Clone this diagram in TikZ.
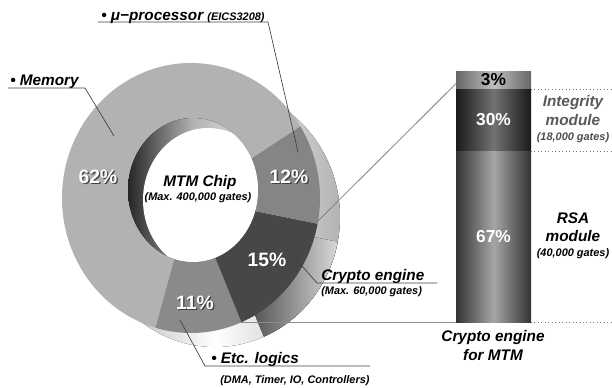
\documentclass[tikz,border=0pt]{standalone}
\usepackage{fontspec}
\setmainfont{Liberation Sans}
\usetikzlibrary{positioning, calc}

\definecolor{memgray}{gray}{0.70}
\definecolor{procgray}{gray}{0.52}
\definecolor{cryptogray}{gray}{0.28}
\definecolor{etcgray}{gray}{0.54}

\tikzset{
  pct/.style={font=\bfseries\fontsize{14.5}{16}\selectfont, text=white, inner sep=0},
  pctshadow/.style={font=\bfseries\fontsize{14.5}{16}\selectfont, text=black!75, inner sep=0},
  lbl/.style={font=\bfseries\itshape\fontsize{11.5}{14}\selectfont, inner sep=0},
  sublbl/.style={font=\bfseries\itshape\fontsize{8.2}{10}\selectfont, inner sep=0},
  lead/.style={draw=black!75, line width=0.5pt},
  barseg/.style={minimum width=56.25pt, inner sep=0, outer sep=0, font=\bfseries\fontsize{13}{15}\selectfont},
  guide/.style={draw=black!55, dotted, line width=0.6pt}
}

% one slice of the top face: center, start, end, fill
\newcommand{\donutslice}[4]{%
  \fill[#4] (#1) -- ++(#2:129 and 135) arc[start angle=#2, end angle=#3, x radius=129, y radius=135] -- cycle;}
% white percent with a dark shadow
\newcommand{\pctlabel}[3]{%
  \node[pctshadow] (#1s) at ($(#2)+(1.3,1.3)$) {#3};
  \node[pct] (#1) at (#2) {#3};}

\begin{document}
\begin{tikzpicture}[x=0.75pt, y=-0.75pt]
  \useasboundingbox (0,0) rectangle (612,387);

  \coordinate (dc) at (191,198);
  \coordinate (rc) at (215,217);

  % side of the ring
  \fill[left color=black!35, right color=black!30, middle color=white] (rc) ellipse[x radius=125, y radius=130];
  \fill[left color=black!90, right color=black!15] (rc) -- ++(67:125 and 130) arc[start angle=67, end angle=11, x radius=125, y radius=130] -- cycle;

  % top face
  \donutslice{dc}{-32}{-254}{memgray}
  \donutslice{dc}{106}{67}{etcgray}
  \donutslice{dc}{67}{11}{cryptogray}
  \donutslice{dc}{11}{-32}{procgray}

  % hole with its inner wall
  \fill[left color=black!85, right color=black!10, middle color=black!30] (193,190) ellipse[x radius=65, y radius=72];
  \begin{scope}
    \clip (193,190) ellipse[x radius=65, y radius=72];
    \fill[white] (208,200) ellipse[x radius=65, y radius=72];
  \end{scope}

  \pctlabel{p62}{98,177}{62\%}
  \pctlabel{p12}{289,177}{12\%}
  \pctlabel{p15}{267,260}{15\%}
  \pctlabel{p11}{195,303}{11\%}

  \node[lbl] (chip) at (200,183) {MTM Chip};
  \node[sublbl] (chipg) at (198,198) {(Max. 400,000 gates)};

  % labels round the ring
  \node[lbl, anchor=base west] (mem) at (10,85) {• Memory};
  \coordinate (memL) at (8,88);
  \coordinate (memR) at (85,88);
  \coordinate (memtip) at (114,136);
  \draw[lead] (memL) -- (memR) -- (memtip);

  \node[lbl, anchor=base west] (proc) at (101,20) {• μ−processor \fontsize{8.2}{10}\selectfont(EICS3208)};
  \coordinate (procL) at (98,22);
  \coordinate (procR) at (268,22);
  \coordinate (proctip) at (298,152);
  \draw[lead] (procL) -- (procR) -- (proctip);

  \node[lbl, anchor=base west] (crypto) at (321,280) {Crypto engine};
  \node[sublbl, anchor=base west] (cryptog) at (321,294) {(Max. 60,000 gates)};
  \coordinate (cryL) at (317,283);
  \coordinate (cryR) at (437,283);
  \coordinate (crytip) at (287,249);
  \draw[lead] (cryR) -- (cryL) -- (crytip);

  \node[lbl, anchor=base west] (etc) at (211,363) {• Etc. logics};
  \node[sublbl, anchor=base west] (etcg) at (220,383) {(DMA, Timer, IO, Controllers)};
  \coordinate (etcL) at (205,366);
  \coordinate (etcR) at (370,366);
  \coordinate (etctip) at (180,320);
  \draw[lead] (etcR) -- (etcL) -- (etctip);

  % crypto engine bar
  \node[barseg, minimum height=13.5pt, left color=black!60, right color=black!60, middle color=black!25] (b3) at (493.5,80) {3\%};
  \node[barseg, minimum height=46.5pt, left color=black!90, right color=black!90, middle color=black!55, text=white, below=0pt of b3] (b30) {30\%};
  \node[barseg, minimum height=128.25pt, left color=black!80, right color=black!80, middle color=black!35, text=white, below=0pt of b30] (b67) {67\%};

  \coordinate (cetop) at (317,222);
  \coordinate (cebot) at (240,322);
  \draw[draw=black!50, line width=0.6pt] (cetop) -- ($(b3.north west)!0.7!(b3.south west)$);
  \draw[draw=black!45, line width=0.6pt] (cebot) -- (b67.south west);

  \coordinate (g1) at (612,89);
  \coordinate (g2) at (612,151);
  \coordinate (g3) at (612,322);
  \draw[guide] (b3.south east) -- (g1);
  \draw[guide] (b30.south east) -- (g2);
  \draw[guide] (b67.south east) -- (g3);

  \node[lbl, align=center, text=black!65, font=\bfseries\itshape\fontsize{11.5}{14.25}\selectfont] (integ) at (573,111) {Integrity\\module};
  \node[sublbl, text=black!70] (integg) at (573,138) {(18,000 gates)};
  \node[lbl, align=center, font=\bfseries\itshape\fontsize{11.5}{13.5}\selectfont] (rsa) at (573,227) {RSA\\module};
  \node[sublbl] (rsag) at (573,254) {(40,000 gates)};

  \node[lbl, align=center, font=\bfseries\itshape\fontsize{11.5}{14.25}\selectfont] (cetitle) at (493,346) {Crypto engine\\for MTM};
\end{tikzpicture}
\end{document}
